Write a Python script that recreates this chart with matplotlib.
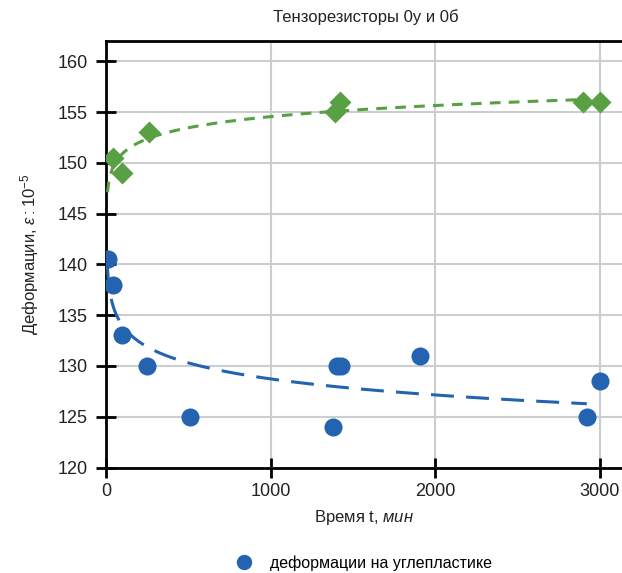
import numpy as np
import matplotlib
matplotlib.use("Agg")
import matplotlib.pyplot as plt
from matplotlib import font_manager

names = {f.name for f in font_manager.fontManager.ttflist}
narrow = "Liberation Sans Narrow" if "Liberation Sans Narrow" in names else "Liberation Sans"
plt.rcParams['font.family'] = [narrow, 'DejaVu Sans']
plt.rcParams['mathtext.fontset'] = 'custom'
plt.rcParams['mathtext.it'] = narrow + ':italic'
plt.rcParams['mathtext.rm'] = narrow

# Data
blue_t = [10, 40, 100, 250, 510, 1380, 1400, 1430, 1910, 2920, 3000]
blue_v = [140.5, 138, 133, 130, 125, 124, 130, 130, 131, 125, 128.5]
green_t = [40, 100, 260, 1390, 1420, 2900, 3000]
green_v = [150.5, 149, 153, 155, 156, 156, 156]

title = "Тензорезисторы 0у и 0б"
legend_label = "деформации на углепластике"
xticks = [0, 1000, 2000, 3000]
yticks = [120, 125, 130, 135, 140, 145, 150, 155, 160]

blue_c = "#2363b0"
green_c = "#58a043"

fig = plt.figure(figsize=(6.22, 5.73), dpi=100)
ax = fig.add_axes([106/622, 1 - 467.5/573, (622-106)/622, (467.5-41)/573])

# log trend lines fitted from data
bt = np.array(blue_t, float); bv = np.array(blue_v, float)
gt = np.array(green_t, float); gv = np.array(green_v, float)
bp = np.polyfit(np.log(bt), bv, 1)
gp = np.polyfit(np.log(gt), gv, 1)
xb = np.linspace(7, 2920, 400)
xg = np.linspace(9, 2900, 400)
ax.plot(xb, np.polyval(bp, np.log(xb)), color=blue_c, lw=2.2, ls=(0, (7.5, 4)), zorder=3)
ax.plot(xg, np.polyval(gp, np.log(xg)), color=green_c, lw=2.2, ls=(0, (3.5, 2.7)), zorder=3)

ax.plot(blue_t, blue_v, 'o', color=blue_c, ms=13, mec='none', zorder=4, label=legend_label)
ax.plot(green_t, green_v, 'D', color=green_c, ms=11, mec='none', zorder=4)

ax.set_xlim(0, 3134)
ax.set_ylim(120, 162)
ax.set_xticks(xticks)
ax.set_yticks(yticks)
ax.grid(True, color="#c9ced1", lw=1.5)
ax.set_axisbelow(True)
for s in ['left', 'bottom', 'top']:
    ax.spines[s].set_linewidth(2)
    ax.spines[s].set_color('black')
ax.spines['right'].set_visible(False)
ax.tick_params(direction='inout', length=14, width=2, labelsize=13, pad=4, colors='black')
ax.tick_params(axis='y', pad=6)
for lab in ax.get_xticklabels() + ax.get_yticklabels():
    lab.set_color('#222222')

ax.set_title(title, fontsize=12, pad=14, color='#222222', x=(366-106)/(622-106))
ax.set_xlabel("Время t, $\\mathit{мин}$", fontsize=12, labelpad=6, color='#222222')
ax.set_ylabel("Деформации, $\\mathit{ε: 10^{-5}}$", fontsize=12, labelpad=12, color='#222222')

fig.legend(loc='center', bbox_to_anchor=(360/622, 1 - 563/573), frameon=False,
           fontsize=11.5, handletextpad=0.6, markerscale=0.85)

fig.savefig("out.png", dpi=100)
